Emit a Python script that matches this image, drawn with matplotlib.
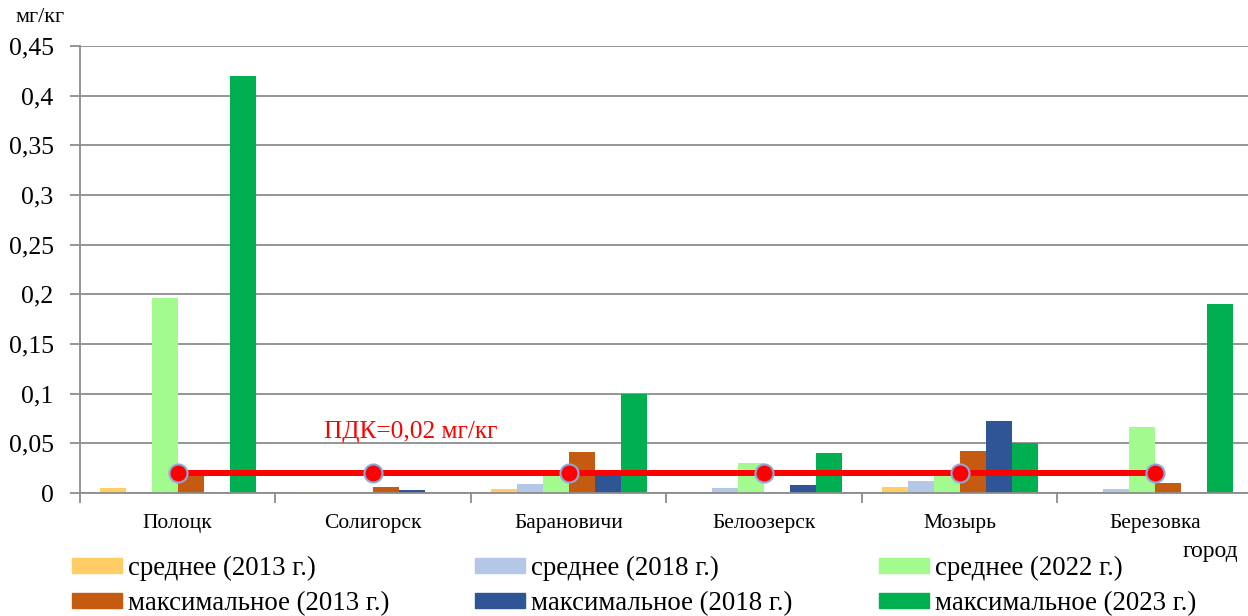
import matplotlib.pyplot as plt
from matplotlib.patches import Patch

plt.rcParams['font.family'] = ['Liberation Serif', 'DejaVu Serif']

cities = ['Полоцк', 'Солигорск', 'Барановичи', 'Белоозерск', 'Мозырь', 'Березовка']

avg_2013 = [0.005, 0.001, 0.004, 0.0, 0.006, 0.0]
avg_2018 = [0.0, 0.0005, 0.009, 0.005, 0.012, 0.004]
avg_2022 = [0.196, 0.0, 0.023, 0.030, 0.018, 0.066]
max_2013 = [0.017, 0.006, 0.041, 0.0, 0.042, 0.010]
max_2018 = [0.0, 0.003, 0.018, 0.008, 0.072, 0.0]
max_2023 = [0.42, 0.0, 0.100, 0.040, 0.050, 0.190]

pdk = 0.02

series = [
    ('среднее (2013 г.)', avg_2013, '#FFCC66'),
    ('среднее (2018 г.)', avg_2018, '#B4C7E7'),
    ('среднее (2022 г.)', avg_2022, '#A3FA8E'),
    ('максимальное (2013 г.)', max_2013, '#C55A11'),
    ('максимальное (2018 г.)', max_2018, '#2F5597'),
    ('максимальное (2023 г.)', max_2023, '#00B050'),
]

fig = plt.figure(figsize=(12.48, 6.16), dpi=100)
# plot area runs a few pixels past the right edge
ax = fig.add_axes([80 / 1248, 123 / 616, 1173 / 1248, 447 / 616])

w = 1 / 7.5
x = list(range(len(cities)))
handles = []
for j, (name, vals, col) in enumerate(series):
    ax.bar([i + (j - 2.5) * w for i in x], vals, width=w, color=col, zorder=2)
    handles.append(Patch(color=col, label=name))

ax.plot(x, [pdk] * len(x), color='#FF0000', lw=4.3, marker='o', ms=13,
        markerfacecolor='#FF0000', markeredgecolor='#8EA9DB', markeredgewidth=1.5,
        zorder=3)
ax.text(0.75, 0.061, 'ПДК=0,02 мг/кг', color='#FF0000', fontsize=18.2,
        ha='left', va='center')

grid = '#8C8C8C'
ax.set_xlim(-0.5, len(cities) - 0.5)
ax.set_ylim(0, 0.45)
yt = [i * 0.05 for i in range(10)]
ax.set_yticks(yt)
ax.set_yticklabels(['0'] + [('%g' % v).replace('.', ',') for v in yt[1:]])
ax.yaxis.grid(True, color=grid, lw=1.3, zorder=0)
ax.tick_params(axis='y', length=7, color=grid, width=1.3, labelsize=18.5, pad=12)

ax.set_xticks([i - 0.5 for i in range(len(cities) + 1)])
ax.set_xticklabels([])
ax.set_xticks(x, minor=True)
ax.set_xticklabels(cities, minor=True)
ax.tick_params(axis='x', which='major', length=7, color=grid, width=1.3)
ax.tick_params(axis='x', which='minor', length=0, labelsize=15.5, pad=15)

for s in ['top', 'right']:
    ax.spines[s].set_visible(False)
for s in ['left', 'bottom']:
    ax.spines[s].set_color(grid)
    ax.spines[s].set_linewidth(1.3)

fig.text(15 / 1248, 1 - 17 / 616, 'мг/кг', fontsize=16, va='center', ha='left')
fig.text(1238 / 1248, 1 - 552 / 616, 'город', fontsize=17, va='center', ha='right')

# legend goes column by column, so interleave to get rows of avg / max
order = [0, 3, 1, 4, 2, 5]
fig.legend([handles[k] for k in order], [series[k][0] for k in order],
           ncol=3, loc='upper left', bbox_to_anchor=(72 / 1248, 1 - 556 / 616),
           frameon=False, fontsize=19.4, handlelength=1.86, handleheight=0.48,
           handletextpad=0.22, columnspacing=3.19, labelspacing=0.38,
           borderpad=0, borderaxespad=0)

fig.savefig('out.png', dpi=100)
